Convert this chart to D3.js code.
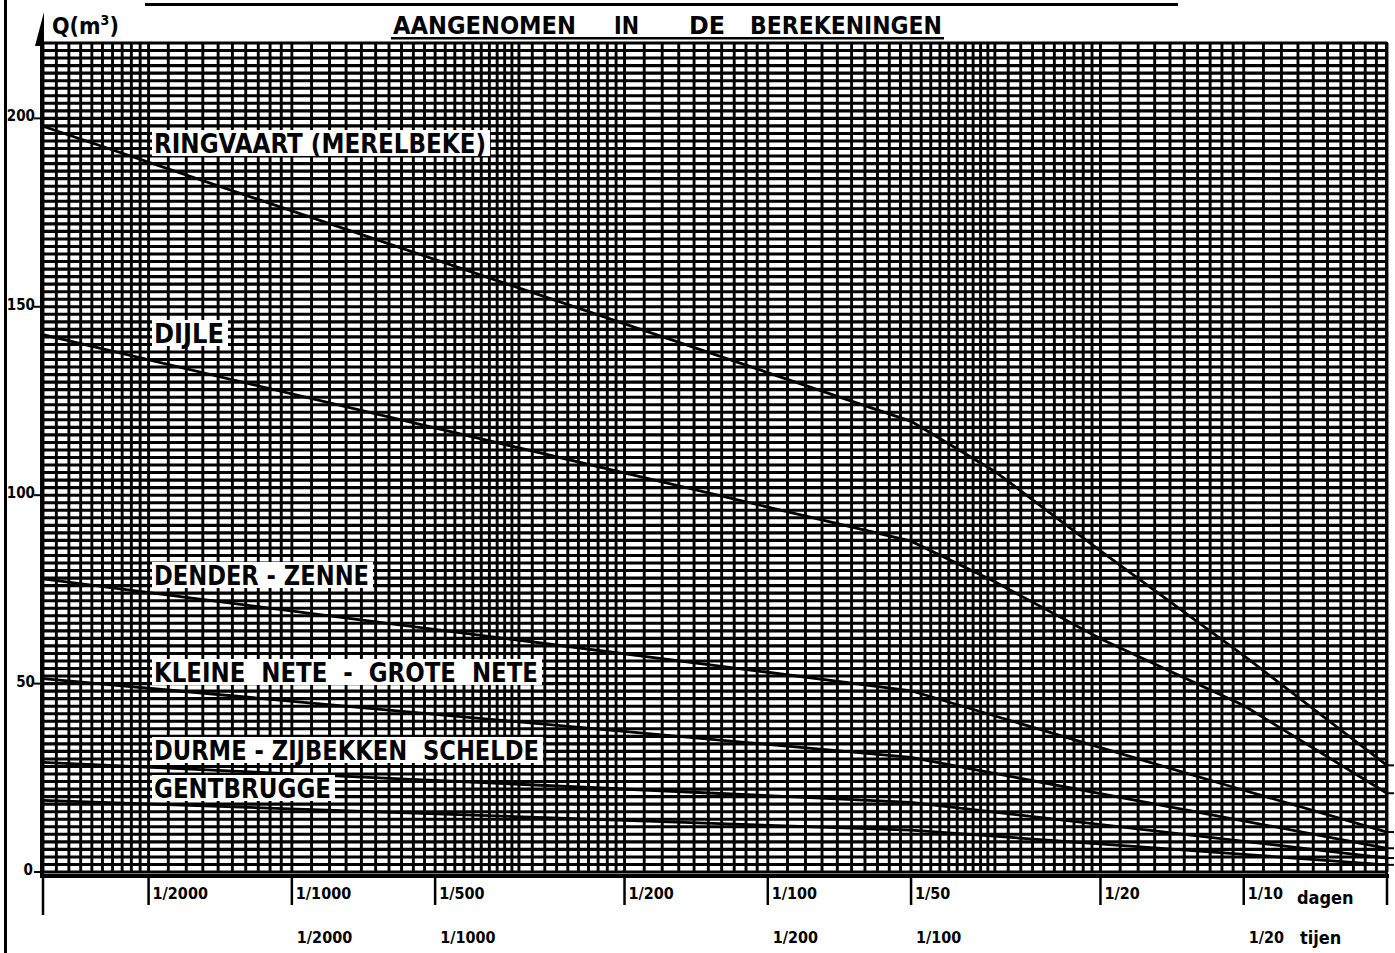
<!DOCTYPE html>
<html>
<head>
<meta charset="utf-8">
<script src="https://cdn.jsdelivr.net/npm/d3@7"></script>
<style>
  html, body { margin: 0; padding: 0; background: #fff; }
  svg { display: block; }
  text { font-family: 'DejaVu Sans Condensed', 'DejaVu Sans', sans-serif; fill: #000; font-weight: bold; }
</style>
</head>
<body>
<div class="svg-container"></div>
<script>
// exceedance frequency (per day) on the x axis, discharge Q (m3/s) on the y axis
const ringvaartP = [0.0003, 0.02, 0.03, 0.05, 0.1, 0.2]
const ringvaartQ = [197.9, 119.6, 106.3, 85.2, 57.4, 28.3]

const dijleP = [0.0003, 0.02, 0.03, 0.05, 0.1, 0.2]
const dijleQ = [142.6, 87.8, 77.0, 61.9, 44.2, 20.9]

const denderP = [0.0003, 0.02, 0.05, 0.1, 0.2]
const denderQ = [77.8, 48.1, 33.0, 21.7, 10.6]

const neteP = [0.0003, 0.02, 0.2]
const neteQ = [51.3, 30.4, 6.3]

const durmeP = [0.0003, 0.02, 0.2]
const durmeQ = [29.1, 18.5, 3.7]

const gentbruggeP = [0.0003, 0.02, 0.2]
const gentbruggeQ = [19.0, 11.1, 1.9]

const seriesNames = [
  'RINGVAART (MERELBEKE)', 'DIJLE', 'DENDER - ZENNE',
  'KLEINE  NETE  -  GROTE  NETE', 'DURME - ZIJBEKKEN  SCHELDE', 'GENTBRUGGE'
]

// graph paper cycles, each cut in 10 equal steps
const gridCycles = [0.0003, 0.0005, 0.001, 0.002, 0.003, 0.005, 0.01, 0.02, 0.03, 0.05, 0.1, 0.2]

const yTicks = [0, 50, 100, 150, 200]
const dagenTicks = [0.0005, 0.001, 0.002, 0.005, 0.01, 0.02, 0.05, 0.1]
const dagenLabels = ['1/2000', '1/1000', '1/500', '1/200', '1/100', '1/50', '1/20', '1/10']
const tijenTicks = [0.001, 0.002, 0.01, 0.02, 0.1]
const tijenLabels = ['1/2000', '1/1000', '1/200', '1/100', '1/20']

const svgWidth = 1395
const svgHeight = 953

const svg = d3
  .select('.svg-container')
  .append('svg')
  .attr('width', svgWidth)
  .attr('height', svgHeight)

const xScale = d3.scaleLog([0.0003, 0.2], [43, 1387])
const yScale = d3.scaleLinear([0, 220], [872, 43])

// page edge on the left
svg.append('rect').attr('x', 4).attr('y', 0).attr('width', 3).attr('height', svgHeight)

// cut-off title underline at the very top
svg.append('rect').attr('x', 145).attr('y', 3).attr('width', 1033).attr('height', 3)

// the grid
const vLines = []
for (let i = 0; i < gridCycles.length - 1; i++) {
  const a = gridCycles[i]
  const b = gridCycles[i + 1]
  for (let k = 0; k < 10; k++) vLines.push(a + (b - a) * k / 10)
}
vLines.push(0.2)
const hLines = d3.range(0, 221, 2)

const grid = svg.append('g').attr('stroke', '#000')

grid.selectAll('.v')
  .data(vLines)
  .join('line')
  .attr('x1', (d) => xScale(d))
  .attr('x2', (d) => xScale(d))
  .attr('y1', yScale(220))
  .attr('y2', yScale(0))
  .attr('stroke-width', 2.9)

grid.selectAll('.h')
  .data(hLines)
  .join('line')
  .attr('x1', xScale(0.0003))
  .attr('x2', xScale(0.2))
  .attr('y1', (d) => yScale(d))
  .attr('y2', (d) => yScale(d))
  .attr('stroke-width', 3.1)

// curves
const series = [
  [ringvaartP, ringvaartQ], [dijleP, dijleQ], [denderP, denderQ],
  [neteP, neteQ], [durmeP, durmeQ], [gentbruggeP, gentbruggeQ]
]
const line = d3.line()
  .x((d) => xScale(d[0]))
  .y((d) => yScale(d[1]))

svg.append('g')
  .selectAll('path')
  .data(series)
  .join('path')
  .attr('d', ([p, q]) => line(p.map((v, i) => [v, q[i]])))
  .attr('fill', 'none')
  .attr('stroke', '#000')
  .attr('stroke-width', 2.8)

// small marks at the line ends on the right
svg.append('g')
  .selectAll('line')
  .data(series)
  .join('line')
  .attr('x1', xScale(0.2))
  .attr('x2', xScale(0.2) + 7)
  .attr('y1', ([p, q]) => yScale(q[q.length - 1]))
  .attr('y2', ([p, q]) => yScale(q[q.length - 1]))
  .attr('stroke', '#000')
  .attr('stroke-width', 2)

// labels on white boxes
const labelBoxes = [
  { y: 130, w: 338 }, { y: 320, w: 76 }, { y: 562, w: 221 },
  { y: 659, w: 390 }, { y: 737, w: 391 }, { y: 775, w: 183 }
]
const labels = svg.append('g')
seriesNames.forEach((name, i) => {
  const box = labelBoxes[i]
  labels.append('rect')
    .attr('x', 152)
    .attr('y', box.y)
    .attr('width', box.w)
    .attr('height', 26)
    .attr('fill', '#fff')
  labels.append('text')
    .attr('x', 154)
    .attr('y', box.y + 23)
    .attr('textLength', box.w - 6)
    .attr('lengthAdjust', 'spacingAndGlyphs')
    .style('font-size', '26px')
    .style('white-space', 'pre')
    .text(name)
})

// axes
svg.append('rect').attr('x', 40).attr('y', 42).attr('width', 4).attr('height', 836)
svg.append('rect').attr('x', 40).attr('y', 874).attr('width', 1349).attr('height', 4)
svg.append('rect').attr('x', 1385).attr('y', 42).attr('width', 3).attr('height', 836)
svg.append('path').attr('d', 'M44,12 L35,46 L44,46 Z')

svg.append('g')
  .selectAll('text')
  .data(yTicks)
  .join('text')
  .attr('x', (d) => d === 0 ? 33 : 35)
  .attr('y', (d) => yScale(d) + 3)
  .attr('text-anchor', 'end')
  .style('font-size', '15px')
  .text((d) => d)
svg.append('g')
  .selectAll('line')
  .data(yTicks)
  .join('line')
  .attr('x1', 34).attr('x2', 42)
  .attr('y1', (d) => yScale(d)).attr('y2', (d) => yScale(d))
  .attr('stroke', '#000').attr('stroke-width', 2)

const bottomTicks = [0.0003].concat(dagenTicks, [0.2])
svg.append('g')
  .selectAll('line')
  .data(bottomTicks)
  .join('line')
  .attr('x1', (d) => xScale(d)).attr('x2', (d) => xScale(d))
  .attr('y1', 876)
  .attr('y2', (d) => d === 0.0003 ? 915 : 905)
  .attr('stroke', '#000').attr('stroke-width', 2.5)

svg.append('g')
  .selectAll('text')
  .data(dagenTicks)
  .join('text')
  .attr('x', (d, i) => xScale(d) + 4)
  .attr('y', 899)
  .style('font-size', '16px')
  .text((d, i) => dagenLabels[i])

svg.append('g')
  .selectAll('text')
  .data(tijenTicks)
  .join('text')
  .attr('x', (d) => xScale(d) + 5)
  .attr('y', 943)
  .style('font-size', '16px')
  .text((d, i) => tijenLabels[i])

svg.append('text').attr('x', 1297).attr('y', 904)
  .style('font-size', '18px').text('dagen')
svg.append('text').attr('x', 1300).attr('y', 944)
  .style('font-size', '18px').text('tijen')

// titles
const q = svg.append('text').attr('x', 52).attr('y', 34).style('font-size', '23px')
q.append('tspan').text('Q(m')
q.append('tspan').attr('dy', -9).style('font-size', '14px').text('3')
q.append('tspan').attr('dy', 9).text(')')

const titleWords = [['AANGENOMEN', 393, 183], ['IN', 614, 25], ['DE', 689, 36], ['BEREKENINGEN', 750, 192]]
titleWords.forEach(([w, x, len]) => {
  svg.append('text')
    .attr('x', x)
    .attr('y', 34)
    .attr('textLength', len)
    .attr('lengthAdjust', 'spacingAndGlyphs')
    .style('font-size', '24px')
    .text(w)
})
svg.append('rect').attr('x', 391).attr('y', 37).attr('width', 553).attr('height', 2.5)
</script>
</body>
</html>
